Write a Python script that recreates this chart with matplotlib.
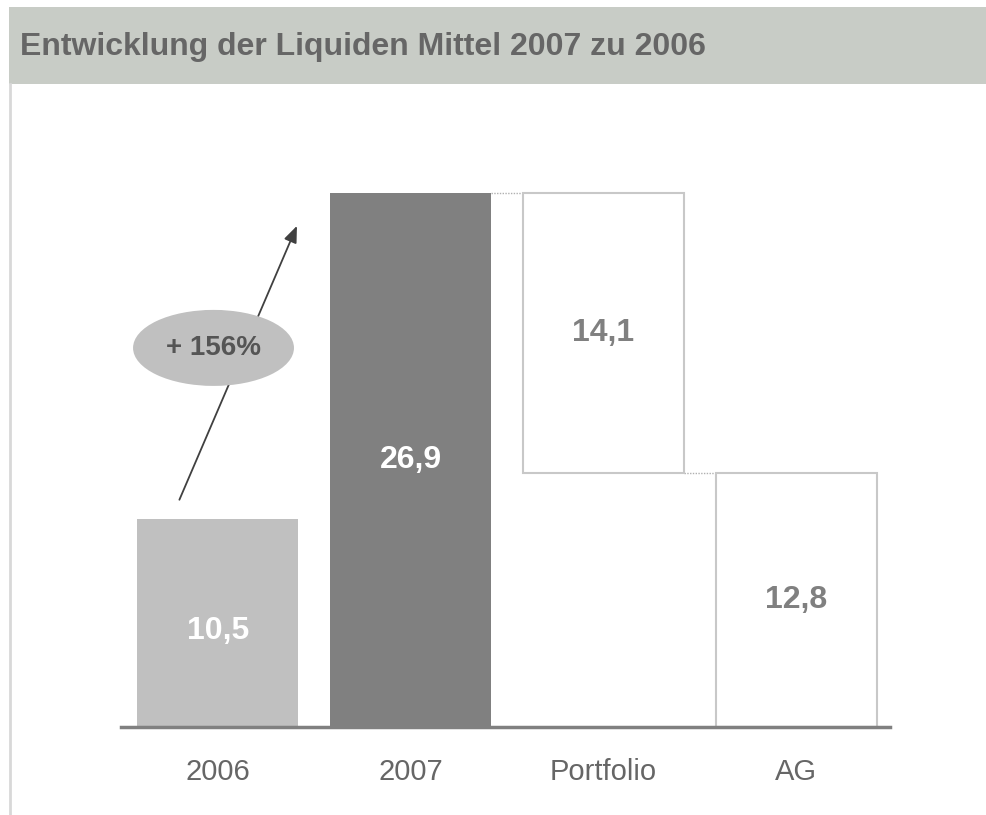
import matplotlib.pyplot as plt
from matplotlib.patches import Rectangle, Ellipse

plt.rcParams['font.family'] = ['Liberation Sans', 'DejaVu Sans']

# Daten (Mio. EUR)
kategorien = ["2006", "2007", "Portfolio", "AG"]
werte = [10.5, 26.9, 14.1, 12.8]
basis = [0, 0, 12.8, 0]
beschriftung = ["10,5", "26,9", "14,1", "12,8"]
zuwachs = "+ 156%"
titel = "Entwicklung der Liquiden Mittel 2007 zu 2006"

farben = ["#c0c0c0", "#808080", "white", "white"]
kanten = ["none", "none", "#c8c8c8", "#c8c8c8"]
textfarben = ["white", "white", "#808080", "#808080"]

W, H = 987, 815
fig = plt.figure(figsize=(W / 100, H / 100), dpi=100)

# Kopfzeile
fig.patches.append(Rectangle((9 / W, 1 - 84 / H), 1, 77 / H, transform=fig.transFigure,
                             facecolor="#c8ccc6", edgecolor="none", zorder=0))
fig.text(20 / W, 1 - 47 / H, titel, fontsize=23, fontweight="bold", color="#666666",
         va="center", ha="left")
fig.add_artist(plt.Line2D([10.5 / W, 10.5 / W], [0, 1 - 84 / H], transform=fig.transFigure,
                          color="#d8d8d8", lw=2))

ax = fig.add_axes([121 / W, 88 / H, (890 - 121) / W, (727 - 100) / H])
bars = ax.bar(range(len(werte)), werte, bottom=basis, width=0.835, color=farben,
              edgecolor=kanten, linewidth=1.5, zorder=2)

for i, b in enumerate(bars):
    y = basis[i] + werte[i] / 2
    if i == 0:
        y -= 0.4  # etwas tiefer wie im Original
    ax.text(b.get_x() + b.get_width() / 2, y, beschriftung[i], ha="center", va="center",
            fontsize=23, fontweight="bold", color=textfarben[i], zorder=3)

# Verbindungslinien (gepunktet)
verbindungen = [(1, werte[1]), (2, basis[2])]
for i, lvl in verbindungen:
    x0 = bars[i].get_x() + bars[i].get_width()
    x1 = bars[i + 1].get_x()
    ax.plot([x0, x1], [lvl, lvl], ls=(0, (1, 1)), color="#b0b0b0", lw=1, zorder=1)

# Wachstumspfeil
x_start, y_start = -0.2, werte[0] + 0.95
x_end, y_end = 0.41, werte[1] - 1.65
ax.annotate("", xy=(x_end, y_end), xytext=(x_start, y_start),
            arrowprops=dict(arrowstyle="-|>,head_length=1.0,head_width=0.4", color="#404040",
                            lw=1.3, shrinkA=0, shrinkB=0), zorder=4)
ell = Ellipse((-0.023, 19.1), 0.835, 3.83, facecolor="#c0c0c0", edgecolor="none", zorder=5)
ax.add_patch(ell)
ax.text(-0.023, 19.1, zuwachs, ha="center", va="center", fontsize=20, fontweight="bold",
        color="#555555", zorder=6)

ax.set_xlim(-0.503, 3.487)
ax.set_ylim(0, 31.59)
ax.set_xticks(range(len(kategorien)))
ax.set_xticklabels(kategorien, fontsize=21, color="#666666")
ax.tick_params(axis="x", length=0, pad=22)
ax.set_yticks([])
for s in ["top", "left", "right"]:
    ax.spines[s].set_visible(False)
ax.spines["bottom"].set_color("#808080")
ax.spines["bottom"].set_linewidth(2.5)
ax.spines["bottom"].set_zorder(5)

fig.savefig("out.png", dpi=100)
